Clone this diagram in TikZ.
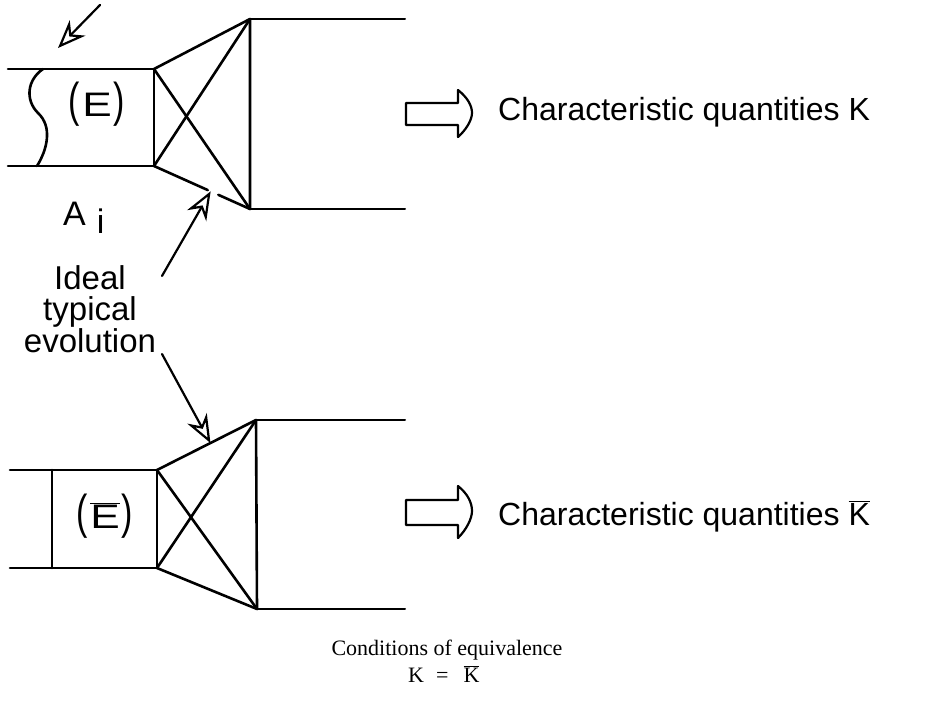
\documentclass[tikz,border=0pt]{standalone}
\usepackage{fontspec}
\setmainfont{Liberation Serif}
\newfontfamily\hand{Liberation Sans}
\usetikzlibrary{arrows.meta,calc}
\newcommand\tallp[1]{\scalebox{1}[1.4]{#1}}
\newcommand\wideE{\scalebox{1.3}[1.0]{E}}
\newcommand\barover[1]{$\overline{\mbox{#1}}$}
\begin{document}
\begin{tikzpicture}[x=1pt,y=-1pt,line join=round,line cap=round,
  ln/.style={line width=2.6pt},
  rl/.style={line width=2pt},
  hollow/.style={line width=2.2pt,-{Stealth[open,length=28pt,width=22pt,inset=9pt]}},
  blockarrow/.style={line width=2.2pt},
  hw/.style={font=\hand\fontsize{32}{34}\selectfont,inner sep=0pt},
  lab/.style={font=\hand\fontsize{34}{36}\selectfont,inner sep=0pt},
  capt/.style={font=\fontsize{22}{26}\selectfont,inner sep=0pt},
]
\useasboundingbox (0,0) rectangle (941,701);
% ---------- upper system ----------
\coordinate (tl) at (8,69);
\coordinate (bl) at (8,166);
\coordinate (b1t) at (154,69);
\coordinate (b1b) at (154,166);
\coordinate (t1t) at (250,19);
\coordinate (t1b) at (250,209);
\coordinate (r1t) at (405,19);
\coordinate (r1b) at (405,209);
\draw[ln] (tl) -- (b1t) -- (b1b) -- (bl);
\draw[ln] (b1t) -- (t1t) -- (t1b);
\draw[ln] (b1t) -- (t1b);
\draw[ln] (b1b) -- (t1t);
\draw[ln] (b1b) -- ($(b1b)!0.56!(t1b)$);
\draw[ln] ($(b1b)!0.67!(t1b)$) -- (t1b);
\draw[rl] (t1t) -- (r1t);
\draw[rl] (t1b) -- (r1b);
% wavy cut
\draw[ln] (43,69) .. controls (27,80) and (25,100) .. (38,113)
                 .. controls (53,127) and (47,150) .. (37,166);
% top-left arrow
\coordinate (a0) at (100,5);
\coordinate (a1) at (58,48);
\draw[hollow] (a0) -- (a1);
\node[lab,anchor=base] (E1) at (97,116) {\tallp{(}\hspace{2pt}\wideE\hspace{2pt}\tallp{)}};
\node[lab,anchor=base west] (Ai) at (63,225) {A\hspace{11pt}\raisebox{-8pt}{i}};
% ---------- label with arrows ----------
\node[font=\hand\fontsize{33}{31.5}\selectfont,inner sep=0pt,align=center,anchor=north] (ideal) at (90,265) {Ideal\\typical\\evolution};
\coordinate (s1) at (162,276);
\coordinate (e1) at ($(b1b)!0.59!(t1b)$);
\draw[hollow] (s1) -- (e1);
% ---------- lower system ----------
\coordinate (tl2) at (10,470);
\coordinate (bl2) at (10,568);
\coordinate (v2t) at (52,470);
\coordinate (v2b) at (52,568);
\coordinate (b2t) at (157,470);
\coordinate (b2b) at (157,568);
\coordinate (t2t) at (256,420);
\coordinate (t2b) at (257,609);
\coordinate (r2t) at (405,420);
\coordinate (r2b) at (405,609);
\draw[ln] (tl2) -- (b2t) -- (b2b) -- (bl2);
\draw[ln] (v2t) -- (v2b);
\draw[ln] (b2t) -- (t2t) -- (t2b) -- (b2b);
\draw[ln] (b2t) -- (t2b);
\draw[ln] (b2b) -- (t2t);
\draw[rl] (t2t) -- (r2t);
\draw[rl] (t2b) -- (r2b);
\node[lab,anchor=base] (E2) at (105,528) {\tallp{(}\hspace{2pt}\barover{\wideE}\hspace{2pt}\tallp{)}};
\coordinate (s2) at (162,354);
\coordinate (e2) at ($(b2t)!0.54!(t2t)$);
\draw[hollow] (s2) -- (e2);
% ---------- block arrows and results ----------
\draw[blockarrow] (406,103) -- (458,103) -- (458,90) .. controls (468,98) and (472,106) .. (472,113)
   .. controls (472,120) and (466,130) .. (458,137) -- (458,125) -- (406,125) -- cycle;
\node[hw,anchor=base west] (K1) at (498,120) {Characteristic quantities K};
\draw[blockarrow] (406,500) -- (458,500) -- (458,486) .. controls (468,494) and (472,503) .. (472,511)
   .. controls (472,519) and (466,530) .. (458,538) -- (458,525) -- (406,525) -- cycle;
\node[hw,anchor=base west] (K2) at (498,525) {Characteristic quantities \barover{K}};
% ---------- caption ----------
\node[capt,anchor=base] (cond) at (447,655) {Conditions of equivalence};
\node[capt,anchor=base west] (eq) at (408,682) {K\hspace{12pt}=\hspace{15pt}\barover{K}};
\end{tikzpicture}
\end{document}
